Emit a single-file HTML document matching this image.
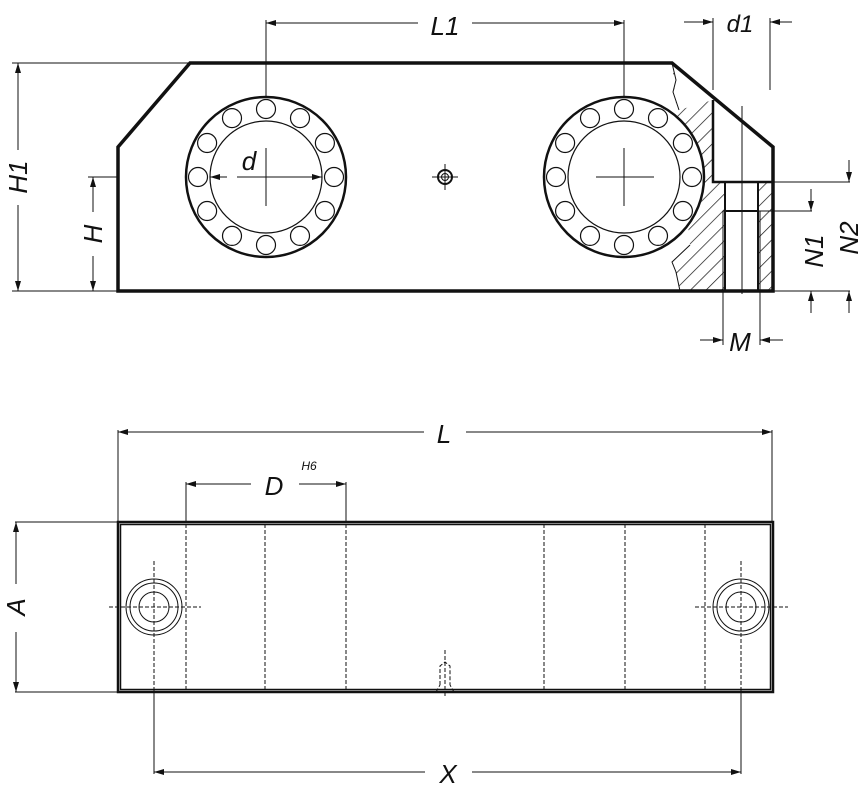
<!DOCTYPE html>
<html><head><meta charset="utf-8"><style>
html,body{margin:0;padding:0;background:#fff}
svg{display:block}
text{font-family:"Liberation Sans",sans-serif;font-style:italic;fill:#111}
</style></head><body>
<svg width="866" height="789" viewBox="0 0 866 789" xmlns="http://www.w3.org/2000/svg">
<defs>
<marker id="a" viewBox="0 0 10 6" refX="10" refY="3" markerWidth="10" markerHeight="6" orient="auto-start-reverse" markerUnits="userSpaceOnUse"><path d="M0,0 L10,3 L0,6 z" fill="#111"/></marker>
<pattern id="h" patternUnits="userSpaceOnUse" width="11" height="11" patternTransform="rotate(45)"><line x1="0" y1="0" x2="0" y2="11" stroke="#111" stroke-width="1.4"/></pattern>
<g id="ball"><circle r="9.5" fill="none" stroke="#111" stroke-width="1.2"/></g>
</defs>
<g stroke="#111" fill="none">
<path d="M672,63 L676,80 L673,92 L679,110 L713,100 L713,182 L725,182 L725,291 L680,291 L676,272 L672,262 L690,245 Z" fill="url(#h)" stroke="none"/>
<path d="M758,182 L773,182 L773,291 L758,291 Z" fill="url(#h)" stroke="none"/>
<path d="M672,63 L676,80 L673,92 L679,110 M690,245 L672,262 L676,272 L680,291" stroke-width="1"/>
<path d="M190,63 L672,63 L773,147 L773,291 L118,291 L118,147 Z" stroke-width="3.5" fill="none"/>
<path d="M713,100 L713,182 L773,182" stroke-width="2.5"/>
<path d="M725,182 L725,291 M758,182 L758,291 M725,211 L758,211" stroke-width="2"/>
<rect x="723" y="211" width="37" height="80" stroke-width="1"/>
<line x1="742" y1="106" x2="742" y2="294" stroke-width="1"/>
<g id="brg">
<circle cx="266" cy="177" r="80" stroke-width="2.5" fill="#fff"/>
<circle cx="266" cy="177" r="56" stroke-width="1.2"/>
<g transform="translate(266,177)">
<use href="#ball" x="68" y="0"/><use href="#ball" x="58.9" y="34"/><use href="#ball" x="34" y="58.9"/><use href="#ball" x="0" y="68"/><use href="#ball" x="-34" y="58.9"/><use href="#ball" x="-58.9" y="34"/><use href="#ball" x="-68" y="0"/><use href="#ball" x="-58.9" y="-34"/><use href="#ball" x="-34" y="-58.9"/><use href="#ball" x="0" y="-68"/><use href="#ball" x="34" y="-58.9"/><use href="#ball" x="58.9" y="-34"/>
</g>
</g>
<use href="#brg" x="358" y="0"/>
<g stroke-width="1">
<line x1="266" y1="148" x2="266" y2="206"/><line x1="238" y1="177" x2="296" y2="177"/>
<line x1="624" y1="148" x2="624" y2="206"/><line x1="596" y1="177" x2="654" y2="177"/>
<line x1="210" y1="177" x2="227" y2="177" marker-start="url(#a)"/>
<line x1="237" y1="177" x2="322" y2="177" marker-end="url(#a)"/>
<circle cx="445" cy="177" r="7" stroke-width="2"/><circle cx="445" cy="177" r="3.5"/>
<line x1="445" y1="164" x2="445" y2="190"/><line x1="432" y1="177" x2="458" y2="177"/>
<line x1="266" y1="20" x2="266" y2="97"/><line x1="624" y1="20" x2="624" y2="97"/>
<line x1="418" y1="23" x2="266" y2="23" marker-end="url(#a)"/>
<line x1="472" y1="23" x2="624" y2="23" marker-end="url(#a)"/>
<line x1="713" y1="18" x2="713" y2="90"/><line x1="770" y1="18" x2="770" y2="90"/>
<line x1="684" y1="22" x2="713" y2="22" marker-end="url(#a)"/>
<line x1="792" y1="22" x2="770" y2="22" marker-end="url(#a)"/>
<line x1="12" y1="63" x2="190" y2="63"/><line x1="12" y1="291" x2="118" y2="291"/>
<line x1="18" y1="150" x2="18" y2="63" marker-end="url(#a)"/><line x1="18" y1="205" x2="18" y2="291" marker-end="url(#a)"/>
<line x1="88" y1="177" x2="118" y2="177"/>
<line x1="93" y1="212" x2="93" y2="177" marker-end="url(#a)"/><line x1="93" y1="256" x2="93" y2="291" marker-end="url(#a)"/>
<line x1="773" y1="182" x2="850" y2="182"/><line x1="760" y1="211" x2="812" y2="211"/><line x1="773" y1="291" x2="850" y2="291"/>
<line x1="849" y1="160" x2="849" y2="182" marker-end="url(#a)"/>
<line x1="811" y1="189" x2="811" y2="211" marker-end="url(#a)"/>
<line x1="811" y1="313" x2="811" y2="291" marker-end="url(#a)"/>
<line x1="849" y1="313" x2="849" y2="291" marker-end="url(#a)"/>
<line x1="723" y1="291" x2="723" y2="345"/><line x1="760" y1="291" x2="760" y2="345"/>
<line x1="700" y1="340" x2="723" y2="340" marker-end="url(#a)"/>
<line x1="783" y1="340" x2="760" y2="340" marker-end="url(#a)"/>
</g>
<rect x="118" y="522" width="655" height="170" stroke-width="2.5"/>
<rect x="120.5" y="524.5" width="650" height="165" stroke-width="1.5"/>
<g stroke-width="1" stroke-dasharray="4,2">
<line x1="186" y1="524" x2="186" y2="690"/><line x1="265" y1="524" x2="265" y2="690"/><line x1="346" y1="524" x2="346" y2="690"/>
<line x1="544" y1="524" x2="544" y2="690"/><line x1="625" y1="524" x2="625" y2="690"/><line x1="705" y1="524" x2="705" y2="690"/>
<line x1="109" y1="607" x2="201" y2="607"/><line x1="154" y1="561" x2="154" y2="692"/>
<line x1="695" y1="607" x2="788" y2="607"/><line x1="741" y1="561" x2="741" y2="692"/>
<line x1="445" y1="650" x2="445" y2="698"/>
<path d="M440,685 L440,666 L445,662 L450,666 L450,685 M436,692 L440,685 M454,692 L450,685"/>
</g>
<g stroke-width="1">
<circle cx="154" cy="607" r="28"/><circle cx="154" cy="607" r="24"/><circle cx="154" cy="607" r="15"/>
<circle cx="741" cy="607" r="28"/><circle cx="741" cy="607" r="24"/><circle cx="741" cy="607" r="15"/>
<line x1="154" y1="692" x2="154" y2="774"/><line x1="741" y1="692" x2="741" y2="774"/>
<line x1="425" y1="772" x2="154" y2="772" marker-end="url(#a)"/>
<line x1="472" y1="772" x2="741" y2="772" marker-end="url(#a)"/>
<line x1="118" y1="430" x2="118" y2="522"/><line x1="772" y1="430" x2="772" y2="522"/>
<line x1="424" y1="432" x2="118" y2="432" marker-end="url(#a)"/>
<line x1="466" y1="432" x2="772" y2="432" marker-end="url(#a)"/>
<line x1="186" y1="482" x2="186" y2="522"/><line x1="346" y1="482" x2="346" y2="522"/>
<line x1="251" y1="484" x2="186" y2="484" marker-end="url(#a)"/>
<line x1="299" y1="484" x2="346" y2="484" marker-end="url(#a)"/>
<line x1="15" y1="522" x2="118" y2="522"/><line x1="15" y1="692" x2="118" y2="692"/>
<line x1="16" y1="584" x2="16" y2="522" marker-end="url(#a)"/><line x1="16" y1="632" x2="16" y2="692" marker-end="url(#a)"/>
</g>
</g>
<text x="445" y="35" font-size="26" text-anchor="middle">L1</text>
<text x="740" y="32" font-size="24" text-anchor="middle">d1</text>
<text x="249" y="170" font-size="26" text-anchor="middle">d</text>
<text x="740" y="351" font-size="26" text-anchor="middle">M</text>
<text transform="translate(27,177) rotate(-90)" font-size="26" text-anchor="middle">H1</text>
<text transform="translate(102,234) rotate(-90)" font-size="26" text-anchor="middle">H</text>
<text transform="translate(823,251) rotate(-90)" font-size="26" text-anchor="middle">N1</text>
<text transform="translate(858,238) rotate(-90)" font-size="26" text-anchor="middle">N2</text>
<text x="444" y="443" font-size="26" text-anchor="middle">L</text>
<text x="274" y="495" font-size="26" text-anchor="middle">D</text>
<text x="309" y="470" font-size="12" text-anchor="middle">H6</text>
<text x="448" y="783" font-size="26" text-anchor="middle">X</text>
<text transform="translate(25,607) rotate(-90)" font-size="26" text-anchor="middle">A</text>
</svg>
</body></html>
